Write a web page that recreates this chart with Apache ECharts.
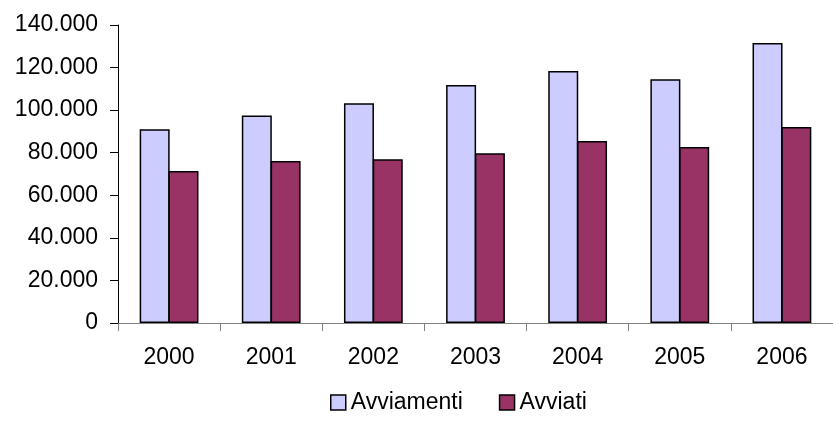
<!DOCTYPE html>
<html><head><meta charset="utf-8">
<script src="https://cdn.jsdelivr.net/npm/echarts@6/dist/echarts.min.js"></script>
<style>html,body{margin:0;padding:0;background:#fff}#c{width:833px;height:434px}</style>
</head><body><div id="c"></div>
<script>
const categories = ['2000','2001','2002','2003','2004','2005','2006'];
const avviamenti = [91000, 97500, 103200, 111800, 118400, 114500, 131500];
const avviati = [71400, 76100, 76900, 79800, 85500, 82700, 92100];
const seriesNames = ['Avviamenti','Avviati'];

const chart = echarts.init(document.getElementById('c'), null, {renderer:'canvas'});
const fmt = v => v === 0 ? '0' : String(v).replace(/\B(?=(\d{3})+(?!\d))/g, '.');
const font = 'Liberation Sans, Arial, sans-serif';
chart.setOption({
  animation: false,
  backgroundColor: '#fff',
  grid: {left: 118, right: -8, top: 25, bottom: 111, containLabel: false},
  legend: {
    top: 386, left: 325,
    itemWidth: 15, itemHeight: 15, itemGap: 36,
    icon: 'rect',
    itemStyle: {borderColor: '#000', borderWidth: 1.5},
    textStyle: {fontFamily: font, fontSize: 23, color: '#000'},
    data: seriesNames
  },
  xAxis: {
    type: 'category', data: categories,
    axisLine: {lineStyle: {color: '#808080', width: 1}},
    axisTick: {show: true, length: 8, lineStyle: {color: '#808080'}},
    axisLabel: {fontFamily: font, fontSize: 23, color: '#000', margin: 23}
  },
  yAxis: {
    type: 'value', min: 0, max: 140000, interval: 20000,
    splitLine: {show: false},
    axisLine: {show: true, lineStyle: {color: '#000', width: 1}},
    axisTick: {show: true, length: 8, lineStyle: {color: '#000'}},
    axisLabel: {fontFamily: font, fontSize: 23, color: '#000', margin: 20, formatter: fmt}
  },
  series: [
    {name: seriesNames[0], type: 'bar', data: avviamenti, barWidth: 30, barGap: '-4%',
     itemStyle: {color: '#CCCCFF', borderColor: '#000', borderWidth: 1.5}},
    {name: seriesNames[1], type: 'bar', data: avviati, barWidth: 30, barGap: '-4%',
     itemStyle: {color: '#993366', borderColor: '#000', borderWidth: 1.5}}
  ]
});
</script></body></html>
